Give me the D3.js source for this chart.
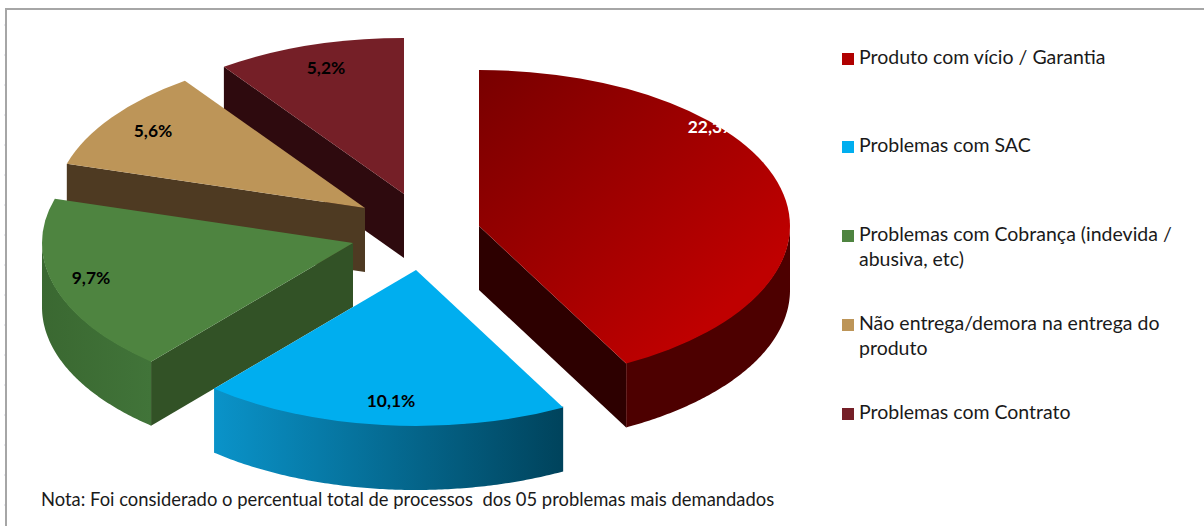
<!DOCTYPE html>
<html><head><meta charset="utf-8">
<style>html,body{margin:0;padding:0;background:#fff;overflow:hidden}svg{display:block}text{font-family:Lato,"Open Sans",sans-serif}</style>
<script src="https://cdn.jsdelivr.net/npm/d3@7"></script></head>
<body><svg id="c" width="1204" height="526"></svg>
<script>
const categories = ["Produto com vício / Garantia","Problemas com SAC","Problemas com Cobrança (indevida / abusiva, etc)","Não entrega/demora na entrega do produto","Problemas com Contrato"];
const values = [22.3,10.1,9.7,5.6,5.2];
const labels = ["22,3%","10,1%","9,7%","5,6%","5,2%"];
const legendLines = [["Produto com vício / Garantia"],["Problemas com SAC"],["Problemas com Cobrança (indevida /","abusiva, etc)"],["Não entrega/demora na entrega do","produto"],["Problemas com Contrato"]];
const note = "Nota: Foi considerado o percentual total de processos  dos 05 problemas mais demandados";

// layout
const W=1204,H=526, rx=311, ry=156, depth=64, cx=418, cy=232;
const explodeX=[61,-2,-65,-53,-14], explodeY=[-6,38,11,-24,-38];
const labelDx=[233,-25,-262,-212,-78], labelDy=[-99,131,35,-77,-126];
const topFill=["url(#gRed)","#00aeef","#4e8440","#bd9558","#751f27"];
const wallFill=["#4d0000","url(#gBlue)","url(#gGreen)","#4e3a22","#2e0a0e"];
const cutFill=["#2d0000",null,"#325226","#4e3a22","#2e0a0e"];
const swatch=["#b00000","#00aeef","#4e8440","#bd9558","#751f27"];
const labelColor=["#fff","#000","#000","#000","#000"];
const legendY=[58,146,235,324,413];

const svg=d3.select("#c");
const defs=svg.append("defs");
function grad(id,x2,y2,stops){const g=defs.append("linearGradient").attr("id",id).attr("x1",0).attr("y1",0).attr("x2",x2).attr("y2",y2);
 stops.forEach(s=>g.append("stop").attr("offset",s[0]).attr("stop-color",s[1]));}
grad("gRed",0.8,0.8,[[0,"#780000"],[1,"#bf0000"]]);
grad("gBlue",1,0,[[0,"#0a93c9"],[1,"#00435c"]]);
grad("gGreen",1,0,[[0,"#3a6831"],[1,"#417439"]]);

// frame
svg.append("path").attr("d",d3.line()([[W,9],[6,9],[6,H]])).attr("fill","none").attr("stroke","#a6a6a6").attr("stroke-width",2);
svg.selectAll(".tick").data(d3.range(25,H,30)).join("line").attr("x1",4).attr("x2",5).attr("y1",d=>d).attr("y2",d=>d).attr("stroke","#d4d4e0");

const slices=d3.pie().sort(null).value(d=>d)(values);
const arc=d3.arc().innerRadius(0).outerRadius(rx);
const px=a=>rx*Math.sin(a), py=a=>-ry*Math.cos(a);
const wall=d3.area().x(a=>px(a)).y0(a=>py(a)-1).y1(a=>py(a)+depth);
const cut=d3.area().x(d=>d.t*px(d.a)).y0(d=>d.t*py(d.a)).y1(d=>d.t*py(d.a)+depth);

// back to front
[4,3,2,0,1].forEach(i=>{
 const s=slices[i];
 const g=svg.append("g").attr("transform",`translate(${cx+explodeX[i]},${cy+explodeY[i]})`);
 const lo=Math.max(s.startAngle,Math.PI/2), hi=Math.min(s.endAngle,Math.PI*1.5);
 if(cutFill[i]){
   const edge=i===0?s.endAngle:s.startAngle;
   g.append("path").attr("d",cut([{a:edge,t:0},{a:edge,t:1}])).attr("fill",cutFill[i]);
 }
 if(hi>lo){
   const angles=d3.range(lo,hi,0.01).concat([hi]);
   g.append("path").attr("d",wall(angles)).attr("fill",wallFill[i]);
 }
 g.append("path").attr("d",arc(s)).attr("transform",`scale(1,${ry/rx})`).attr("fill",topFill[i]);
 g.append("text").attr("x",labelDx[i]).attr("y",labelDy[i]).attr("text-anchor","middle").attr("font-size",17.4).attr("font-weight",700)
  .attr("dy","0.35em").attr("fill",labelColor[i]).text(labels[i]);
});

// legend
const lg=svg.append("g");
categories.forEach((c,i)=>{
 lg.append("rect").attr("x",842).attr("y",legendY[i]-5).attr("width",12).attr("height",12).attr("fill",swatch[i]);
 legendLines[i].forEach((t,j)=>lg.append("text").attr("x",859).attr("y",legendY[i]+6+j*25).attr("font-size",19.5).attr("fill","#1a1a1a").text(t));
});
svg.append("text").attr("x",41).attr("y",506).attr("font-size",18.4).attr("fill","#1a1a1a").attr("xml:space","preserve").style("white-space","pre").text(note);
</script></body></html>
